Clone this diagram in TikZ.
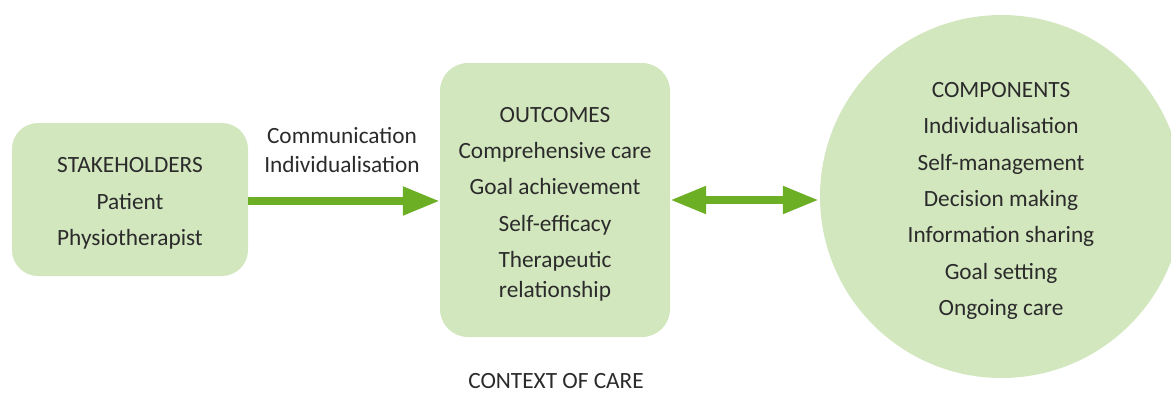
\documentclass[tikz,border=0pt]{standalone}
\usepackage{fontspec}
\setmainfont{Carlito}
\usetikzlibrary{arrows.meta}
\definecolor{boxgreen}{HTML}{D3E7BF}
\definecolor{arrowgreen}{HTML}{6CAF25}
\definecolor{txt}{HTML}{2B2B2B}
\tikzset{
  box/.style={fill=boxgreen, draw=none, rounded corners=26pt, text=txt, align=center,
    font=\fontsize{23.3}{36.4}\selectfont},
  lbl/.style={text=txt, align=center, font=\fontsize{23.3}{29}\selectfont},
  conn/.style={draw=arrowgreen, line width=8pt},
}
\begin{document}
\begin{tikzpicture}[x=1pt,y=-1pt]
\useasboundingbox (0,0) rectangle (1171,392);
\clip (0,0) rectangle (1171,392);
\node[box, minimum width=236pt, minimum height=153pt] (stake) at (130,199.5) {};
\node[text=txt, align=center, font=\fontsize{23.3}{36.6}\selectfont] (staketxt) at (130,203.5)
  {STAKEHOLDERS\\Patient\\Physiotherapist};
\node[box, minimum width=230pt, minimum height=274pt, rounded corners=28pt] (out) at (555,200) {};
\node[text=txt, align=center, font=\fontsize{23.3}{36.4}\selectfont] (outtxt) at (555,204)
  {OUTCOMES\\Comprehensive care\\Goal achievement\\Self-efficacy\\Therapeutic\\[-7pt]relationship};
\node[box, circle, minimum size=363pt, inner sep=0pt] (comp) at (1001.5,196.5) {};
\node[text=txt, align=center, font=\fontsize{23.3}{36.3}\selectfont] (comptxt) at (1001,201)
  {COMPONENTS\\Individualisation\\Self-management\\Decision making\\Information sharing\\Goal setting\\Ongoing care};
\draw[conn, -{Triangle[length=37pt,width=27pt]}] (stake.east |- 0,201) -- (out.west |- 0,201);
\draw[conn, {Triangle[length=36pt,width=26pt]}-{Triangle[length=36pt,width=26pt]}]
  (out.east |- 0,200) -- ([xshift=-1pt]comp.west |- 0,200);
\node[lbl] (commlbl) at (342,150) {Communication\\Individualisation};
\node[lbl] (ctx) at (556,381) {CONTEXT OF CARE};
\end{tikzpicture}
\end{document}
